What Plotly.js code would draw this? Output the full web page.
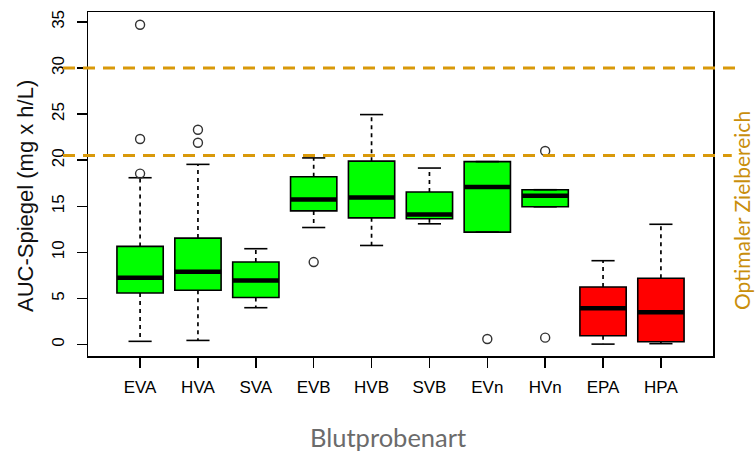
<!DOCTYPE html>
<html>
<head>
<meta charset="utf-8">
<script src="https://cdn.plot.ly/plotly-3.0.1.min.js"></script>
<style>html,body{margin:0;padding:0;background:#fff;}#chart{width:755px;height:452px;}</style>
</head>
<body>
<div id="chart"></div>
<script>
// ---- data ----
const categories = ['EVA','HVA','SVA','EVB','HVB','SVB','EVn','HVn','EPA','HPA'];
const q1           = [5.6, 5.9, 5.1, 14.5, 13.75, 13.65, 12.2, 14.95, 0.95, 0.3];
const medians      = [7.25, 7.9, 6.95, 15.75, 15.95, 14.1, 17.1, 16.15, 3.95, 3.5];
const q3           = [10.65, 11.55, 8.95, 18.2, 19.9, 16.55, 19.85, 16.8, 6.25, 7.2];
const lowerWhisker = [0.35, 0.45, 4.0, 12.7, 10.75, 13.1, 12.2, 14.95, 0.05, 0.1];
const upperWhisker = [18.1, 19.55, 10.4, 20.25, 24.95, 19.15, 19.85, 16.8, 9.1, 13.05];
const groupColor   = ['green','green','green','green','green','green','green','green','red','red'];
const outlierCat   = ['EVA','EVA','EVA','HVA','HVA','EVB','EVn','HVn','HVn'];
const outlierVal   = [18.55, 22.3, 34.7, 21.9, 23.3, 8.95, 0.6, 21.0, 0.75];
const targetLines  = [20.5, 30];
const yTicks       = [0, 5, 10, 15, 20, 25, 30, 35];

// ---- build traces ----
const pos = categories.map((c, i) => i + 1);
const posOf = c => categories.indexOf(c) + 1;
const BOXW = 0.8, STAPLE = 0.4;
const fills = {green: '#00FF00', red: '#FF0000'};

function boxTrace(group) {
  const idx = pos.map((p, i) => i).filter(i => groupColor[i] === group);
  return {
    type: 'box', x: idx.map(i => pos[i]),
    q1: idx.map(i => q1[i]), median: idx.map(i => medians[i]), q3: idx.map(i => q3[i]),
    lowerfence: idx.map(i => q1[i]), upperfence: idx.map(i => q3[i]),
    width: BOXW, whiskerwidth: 0, boxpoints: false,
    fillcolor: fills[group], line: {color: '#000', width: 1.6},
    hoverinfo: 'skip', showlegend: false
  };
}

const wx = [], wy = [], sx = [], sy = [], mx = [], my = [];
pos.forEach((p, i) => {
  wx.push(p, p, null, p, p, null);
  wy.push(q3[i], upperWhisker[i], null, q1[i], lowerWhisker[i], null);
  sx.push(p - STAPLE / 2, p + STAPLE / 2, null, p - STAPLE / 2, p + STAPLE / 2, null);
  sy.push(upperWhisker[i], upperWhisker[i], null, lowerWhisker[i], lowerWhisker[i], null);
  mx.push(p - BOXW / 2, p + BOXW / 2, null);
  my.push(medians[i], medians[i], null);
});

const traces = [
  boxTrace('green'),
  boxTrace('red'),
  {type: 'scatter', mode: 'lines', x: wx, y: wy, line: {color: '#000', width: 1.7, dash: '4px,4px'}, hoverinfo: 'skip', showlegend: false},
  {type: 'scatter', mode: 'lines', x: sx, y: sy, line: {color: '#000', width: 1.6}, hoverinfo: 'skip', showlegend: false},
  {type: 'scatter', mode: 'lines', x: mx, y: my, line: {color: '#000', width: 4.5}, hoverinfo: 'skip', showlegend: false},
  {type: 'scatter', mode: 'markers', x: outlierCat.map(posOf), y: outlierVal,
   marker: {symbol: 'circle-open', size: 9, color: '#333', line: {width: 1.4, color: '#333'}},
   hoverinfo: 'skip', showlegend: false}
];

const lineColor = '#D9990A';
const shapes = targetLines.map((v, i) => ({
  type: 'line', xref: 'paper', yref: 'y', x0: -0.04, x1: i === 1 ? 1.043 : 1.03, y0: v, y1: v,
  line: {color: lineColor, width: 3, dash: '12px,8px'}, layer: 'above'
}));

const axisFont = {family: 'Liberation Sans, Arial, sans-serif', size: 17, color: '#000'};
const layout = {
  width: 755, height: 452,
  margin: {l: 88, r: 42, t: 12, b: 96},
  paper_bgcolor: '#fff', plot_bgcolor: '#fff',
  showlegend: false,
  xaxis: {
    range: [0.1, 10.9], tickvals: pos, ticktext: categories,
    showline: true, mirror: true, linecolor: '#000', linewidth: 1.5,
    ticks: 'outside', ticklen: 10, tickwidth: 1.5, tickcolor: '#000',
    tickfont: axisFont, showgrid: false, zeroline: false, ticklabelstandoff: 5
  },
  yaxis: {
    range: [-1.24, 36.08], tickvals: yTicks, ticktext: yTicks.map(String), tickangle: -90,
    showline: true, mirror: true, linecolor: '#000', linewidth: 1.5,
    ticks: 'outside', ticklen: 10, tickwidth: 1.5, tickcolor: '#000',
    tickfont: axisFont, showgrid: false, zeroline: false, ticklabelstandoff: 6
  },
  shapes: shapes,
  annotations: [
    {text: 'AUC-Spiegel (mg x h/L)', xref: 'paper', yref: 'paper', x: -0.1008, y: 0.465,
     xanchor: 'center', yanchor: 'middle', textangle: -90, showarrow: false,
     font: {family: 'Liberation Sans, Arial, sans-serif', size: 22, color: '#111'}},
    {text: 'Blutprobenart', xref: 'paper', yref: 'paper', x: 0.4795, y: -0.2355,
     xanchor: 'center', yanchor: 'middle', showarrow: false,
     font: {family: 'Lato, sans-serif', size: 25.5, color: '#6b6b6b'}},
    {text: 'Optimaler Zielbereich', xref: 'paper', yref: 'paper', x: 1.0448, y: 0.4215,
     xanchor: 'center', yanchor: 'middle', textangle: -90, showarrow: false,
     font: {family: 'Lato, sans-serif', size: 21, color: '#C98E0C'}}
  ]
};

Plotly.newPlot('chart', traces, layout, {displayModeBar: false, staticPlot: true});
</script>
</body>
</html>
